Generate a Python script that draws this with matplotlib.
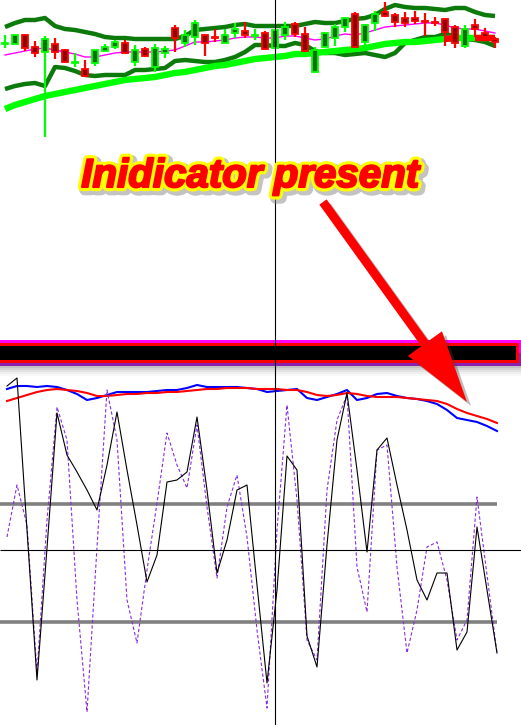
import matplotlib
matplotlib.use("Agg")
import matplotlib.pyplot as plt
import matplotlib.patheffects as pe
from matplotlib.patches import Rectangle, FancyArrow
import numpy as np

# price window (values read in screen units, smaller = higher price)
open_ = [43.5, 44, 35, 47, 52, 44, 50, 62.5, 69, 63, 51, 47, 43,
         62, 49, 67, 53, 28, 43, 37, 35, 37, 43, 33, 31, 35.5,
         33, 48, 35, 24, 34, 72, 47, 38, 27, 14, 42, 23, 12,
         15, 18, 18, 21, 22, 19, 27, 46, 25, 33, 39]
close = [43, 35, 48, 53, 39, 52, 62, 62, 76, 50, 47, 42, 53,
         50, 56, 48, 49, 38, 35, 23, 43, 37.5, 35, 29, 35, 35,
         49, 30, 27, 34, 51, 50, 33, 27, 18, 47, 25, 14, 16,
         22, 23, 21, 21.5, 22.5, 32, 43, 29, 29, 37, 42]
high = [35, 35, 34, 41, 36, 38, 49, 53, 60, 50, 44, 40, 40,
        45, 47, 44, 46, 25, 30, 20, 35, 29, 29, 23, 22, 29,
        31, 30, 22, 22, 27, 47, 32, 24, 17, 12, 24, 11, 2,
        13, 12, 11, 13, 17, 19, 25, 25, 19, 28, 37]
low = [48, 44, 51, 57, 137, 59, 63, 67, 76, 66, 51, 49, 54,
       66, 57, 72, 58, 52, 47, 45, 56, 42, 43, 38, 38, 40,
       50, 48, 40, 37, 52, 72, 47, 46, 32, 47, 46, 31, 17,
       27, 27, 24, 36, 26, 46, 48, 48, 37, 39, 48]

bb_upper = [27, 23, 20, 20, 18, 26, 29, 30, 32, 34, 37, 38, 38,
            39, 39, 39, 39, 39, 36, 30, 29, 28, 27, 25, 24, 26,
            26, 26, 26, 26, 24, 22, 23, 23, 21, 19, 18, 15, 9,
            5, 7, 8, 8, 9, 10, 8, 8, 12, 15, 16]
bb_lower = [89, 86, 84, 83, 86, 67, 68, 71, 75, 76, 75, 75, 75,
            70, 70, 69, 68, 61, 60, 61, 62, 62, 60, 57, 52, 45,
            45, 46, 46, 43, 45, 51, 53, 53, 55, 54, 53, 55, 57,
            53, 43, 40, 37, 37, 34, 36, 39, 40, 42, 46]
ma_fast = [55, 53, 51, 49, 48, 50, 52, 54, 57, 57, 55, 53, 52,
           52, 52, 52, 51, 50, 46, 42, 42, 41, 40, 38, 37, 37,
           38, 38, 36, 36, 38, 40, 39, 36, 34, 35, 33, 30, 27,
           26, 25, 24, 23, 23, 25, 28, 29, 29, 31, 33]
ma_slow = [109, 105, 102, 99, 96, 94, 92, 90, 88, 86, 84, 82, 80,
           79, 78, 77, 75, 73, 72, 70, 68, 66, 65, 63, 61, 59,
           58, 57, 56, 54, 54, 53, 52, 51, 50, 49, 48, 46, 44,
           43, 42, 42, 41, 40, 39, 38, 38, 38, 38, 38]
ma_slow_down = [44, 45, 47, 48, 49]

# indicator window
sig_blue = [389, 386, 386, 387, 386, 387, 390, 394, 400, 398, 395, 392, 392,
            392, 392, 391, 390, 390, 388, 385, 387, 387, 387, 387, 388, 389,
            392, 391, 390, 389, 398, 400, 397, 394, 390, 400, 398, 394, 393,
            396, 398, 399, 401, 404, 410, 418, 420, 422, 426, 431]
sig_red = [401, 398, 395, 392, 390, 389, 390, 391, 393, 396, 396, 395, 394,
           394, 393, 393, 392, 392, 391, 390, 389, 389, 388, 388, 388, 389,
           389, 389, 390, 390, 392, 395, 396, 395, 393, 394, 396, 397, 397,
           397, 398, 399, 400, 401, 404, 409, 413, 416, 419, 423]
osc_main = [386, 378, 530, 680, 548, 413, 455, 472, 490, 510, 465, 412, 470,
            525, 582, 555, 482, 480, 472, 417, 490, 573, 540, 490, 485, 585,
            683, 590, 456, 470, 636, 667, 545, 440, 393, 470, 552, 450, 438,
            485, 530, 580, 600, 573, 573, 650, 632, 527, 590, 653]
osc_signal = [537, 485, 525, 673, 520, 407, 440, 600, 712, 547, 390, 440, 600,
              643, 570, 503, 433, 465, 488, 425, 507, 578, 507, 475, 537, 630,
              708, 530, 405, 500, 640, 660, 490, 420, 395, 567, 612, 450, 445,
              567, 653, 610, 547, 542, 580, 640, 620, 497, 575, 653]
levels = [504, 622]
crosshair = (275, 550)

W, H = 521, 725
fig = plt.figure(figsize=(W / 100, H / 100), dpi=100)
fig.patch.set_facecolor("white")

n = len(close)
idx = np.arange(n)

# ---- main window
ax = fig.add_axes([0, 1 - 340 / H, 1, 340 / H])
ax.set_xlim(-0.5, (W - 5) / 10)
ax.set_ylim(340, 0)
ax.axis("off")

ax.plot(idx, bb_upper, color="#0b7a0b", lw=3.2, solid_capstyle="butt", zorder=2)
ax.plot(idx, bb_lower, color="#0b7a0b", lw=3.2, solid_capstyle="butt", zorder=2)
ax.plot(idx, ma_slow, color="#00ff00", lw=4.6, solid_capstyle="butt", zorder=2)
slow_red = np.full(n, np.nan)
for i in ma_slow_down:
    slow_red[i] = ma_slow[i]
ax.plot(idx, slow_red, color="#ff0000", lw=4.6, solid_capstyle="butt", zorder=2)
ax.plot(idx, ma_fast, color="#ff00ff", lw=1.0, zorder=3)

o = np.array(open_)
c = np.array(close)
bull = c < o
edge = np.where(bull, "#00ff00", "#ff0000")
face = np.where(bull, "#0a6e0a", "#8b0000")
ax.vlines(idx, high, low, colors=edge, lw=1.6, zorder=4)
ax.bar(idx, np.abs(c - o), bottom=np.minimum(o, c), width=0.62,
       color=face, edgecolor=edge, linewidth=1.3, zorder=5)

# ---- indicator window
ax2 = fig.add_axes([0, 0, 1, 360 / H])
ax2.set_xlim(-0.7, (W - 7) / 10)
ax2.set_ylim(725, 365)
ax2.axis("off")
ax2.hlines(levels, -0.7, 49, color="#808080", lw=2.6, zorder=1)
ax2.plot(idx, sig_blue, color="#0000ff", lw=1.5, zorder=3)
ax2.plot(idx, sig_red, color="#ff0000", lw=1.5, zorder=4)
ax2.plot(idx, osc_signal, color="#8a2be2", lw=0.8, ls=(0, (3, 2)), zorder=5)
ax2.plot(idx, osc_main, color="black", lw=0.8, zorder=6)

# ---- overlay: crosshair, separator, note
ov = fig.add_axes([0, 0, 1, 1], facecolor="none")
ov.set_xlim(0, W)
ov.set_ylim(H, 0)
ov.axis("off")
ov.axvline(crosshair[0], color="black", lw=0.8)
ov.hlines(crosshair[1], 0, W, color="black", lw=0.8)

for k, a in enumerate([0.35, 0.25, 0.16, 0.09, 0.04]):
    ov.add_patch(Rectangle((0, 366 + 2 * k), W, 2, color="#555555", alpha=a, lw=0))
ov.add_patch(Rectangle((0, 340), W, 13, color="#ff00ff", lw=0))
ov.add_patch(Rectangle((0, 353), W, 13, color="#8a22b0", lw=0))
ov.add_patch(Rectangle((0, 343), 519, 20, color="#ff0000", lw=0))
ov.add_patch(Rectangle((0, 346), 516, 14, color="black", lw=0))

shadow = FancyArrow(327, 206, 144, 200, width=9, head_width=42, head_length=72,
                    length_includes_head=True, color="#444444", alpha=0.35, lw=0)
ov.add_patch(shadow)
arrow = FancyArrow(323, 202, 144, 200, width=9, head_width=42, head_length=72,
                   length_includes_head=True, color="#ff0000", lw=0)
ov.add_patch(arrow)

ov.text(250, 187, "Inidicator present", color="#ff0000", fontsize=29,
        fontweight="bold", fontstyle="italic", family="Liberation Sans",
        ha="center", va="baseline",
        path_effects=[pe.Stroke(linewidth=8, foreground="#888888", alpha=0.5, offset=(2, -2)),
                      pe.Stroke(linewidth=6, foreground="#ffff00"),
                      pe.Stroke(linewidth=1.5, foreground="#ff0000"),
                      pe.Normal()])

fig.savefig("out.png", dpi=100)
